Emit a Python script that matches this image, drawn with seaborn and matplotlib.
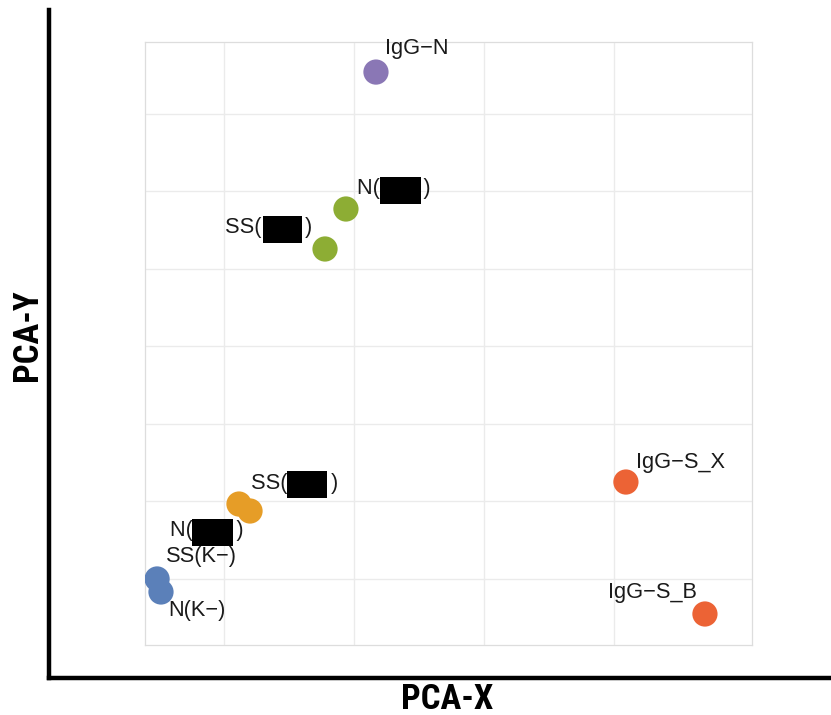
import matplotlib
matplotlib.use("Agg")
import matplotlib.pyplot as plt
import matplotlib.transforms as mtransforms
from matplotlib.patches import Rectangle
import seaborn as sns
import pandas as pd

# ---- data ----
labels = ["IgG\u2212N", "N(\u2003\u2003)", "SS(\u2003\u2003)", "SS(\u2003\u2003)",
          "N(\u2003\u2003)", "SS(K\u2212)", "N(K\u2212)", "IgG\u2212S_X", "IgG\u2212S_B"]
groups = ["IgG-N", "green", "green", "orange", "orange", "K-", "K-", "IgG-S", "IgG-S"]
pca_x = [0.169, -0.062, -0.223, -0.885, -0.800, -1.515, -1.485, 2.092, 2.700]
pca_y = [3.535, 1.768, 1.252, -2.039, -2.129, -3.006, -3.174, -1.755, -3.458]
palette = {"IgG-N": "#8A77B5", "green": "#8DAD34", "orange": "#E69D27",
           "K-": "#5B80B9", "IgG-S": "#EC6335"}

# label placement (offset in pixels from point, horizontal alignment)
label_offsets = [(9, 24, "left"), (11, 21, "left"), (-100, 21, "left"), (12, 21, "left"),
                 (-80, -19, "left"), (9, 22, "left"), (7, -19, "left"), (10, 20, "left"),
                 (-8, 22, "right")]
# redaction boxes: label index -> (dx, dy, width, height) in pixels from the point
redactions = {1: (34, 5, 41, 27), 2: (-62, 6, 39, 27), 3: (48, 6, 40, 27), 4: (-58, -35, 41, 27)}

df = pd.DataFrame({"label": labels, "group": groups, "x": pca_x, "y": pca_y})

sns.set_theme(style="white")
plt.rcParams["font.family"] = ["Liberation Sans", "DejaVu Sans"]

fig = plt.figure(figsize=(8.31, 7.15), dpi=100)

# outer frame axes with thick left/bottom spines
outer = fig.add_axes([49 / 831, (715 - 678) / 715, 1 - 49 / 831, (678 - 10) / 715])
outer.set_xticks([])
outer.set_yticks([])
outer.set_facecolor("none")
for side in ["top", "right"]:
    outer.spines[side].set_visible(False)
for side in ["left", "bottom"]:
    outer.spines[side].set_linewidth(3.2)
    outer.spines[side].set_color("black")
fig.text(447 / 831, 1 - 709 / 715, "PCA-X", ha="center", va="baseline", color="black",
         fontsize=25, fontweight="bold", family=["Roboto Condensed", "DejaVu Sans"])
fig.text(28 / 831, 1 - 335 / 715, "PCA-Y", ha="center", va="center", rotation=90, color="black",
         fontsize=25, fontweight="bold", family=["Roboto Condensed", "DejaVu Sans"])

# inner panel
ax = fig.add_axes([145 / 831, 1 - 645 / 715, (752 - 145) / 831, (645 - 42) / 715])
ax.set_facecolor("white")
sns.scatterplot(data=df, x="x", y="y", hue="group", palette=palette, s=330,
                edgecolor="none", linewidth=0, legend=False, ax=ax, zorder=3)
ax.set_xlim(-1.608, 3.062)
ax.set_ylim(-3.858, 3.923)
ax.set_xticks([-1, 0, 1, 2])
ax.set_yticks([-3, -2, -1, 0, 1, 2, 3])
ax.tick_params(length=0, labelbottom=False, labelleft=False)
ax.grid(True, color="#EBEBEB", linewidth=1.0)
ax.set_axisbelow(True)
ax.set_xlabel("")
ax.set_ylabel("")
for s in ax.spines.values():
    s.set_color("#DDDDDD")
    s.set_linewidth(0.9)

for i, ((lab, x, y), (dx, dy, ha)) in enumerate(zip(zip(labels, pca_x, pca_y), label_offsets)):
    ax.annotate(lab, (x, y), xytext=(dx, dy), textcoords="offset pixels",
                ha=ha, va="center", fontsize=15.7, color="#1a1a1a", zorder=4)
    if i in redactions:
        bx, by, bw, bh = redactions[i]
        tr = mtransforms.Affine2D().translate(bx, by) + mtransforms.ScaledTranslation(x, y, ax.transData)
        ax.add_patch(Rectangle((0, 0), bw, bh, transform=tr, facecolor="black",
                               edgecolor="none", zorder=5, clip_on=False))

fig.savefig("out.png", dpi=100)
